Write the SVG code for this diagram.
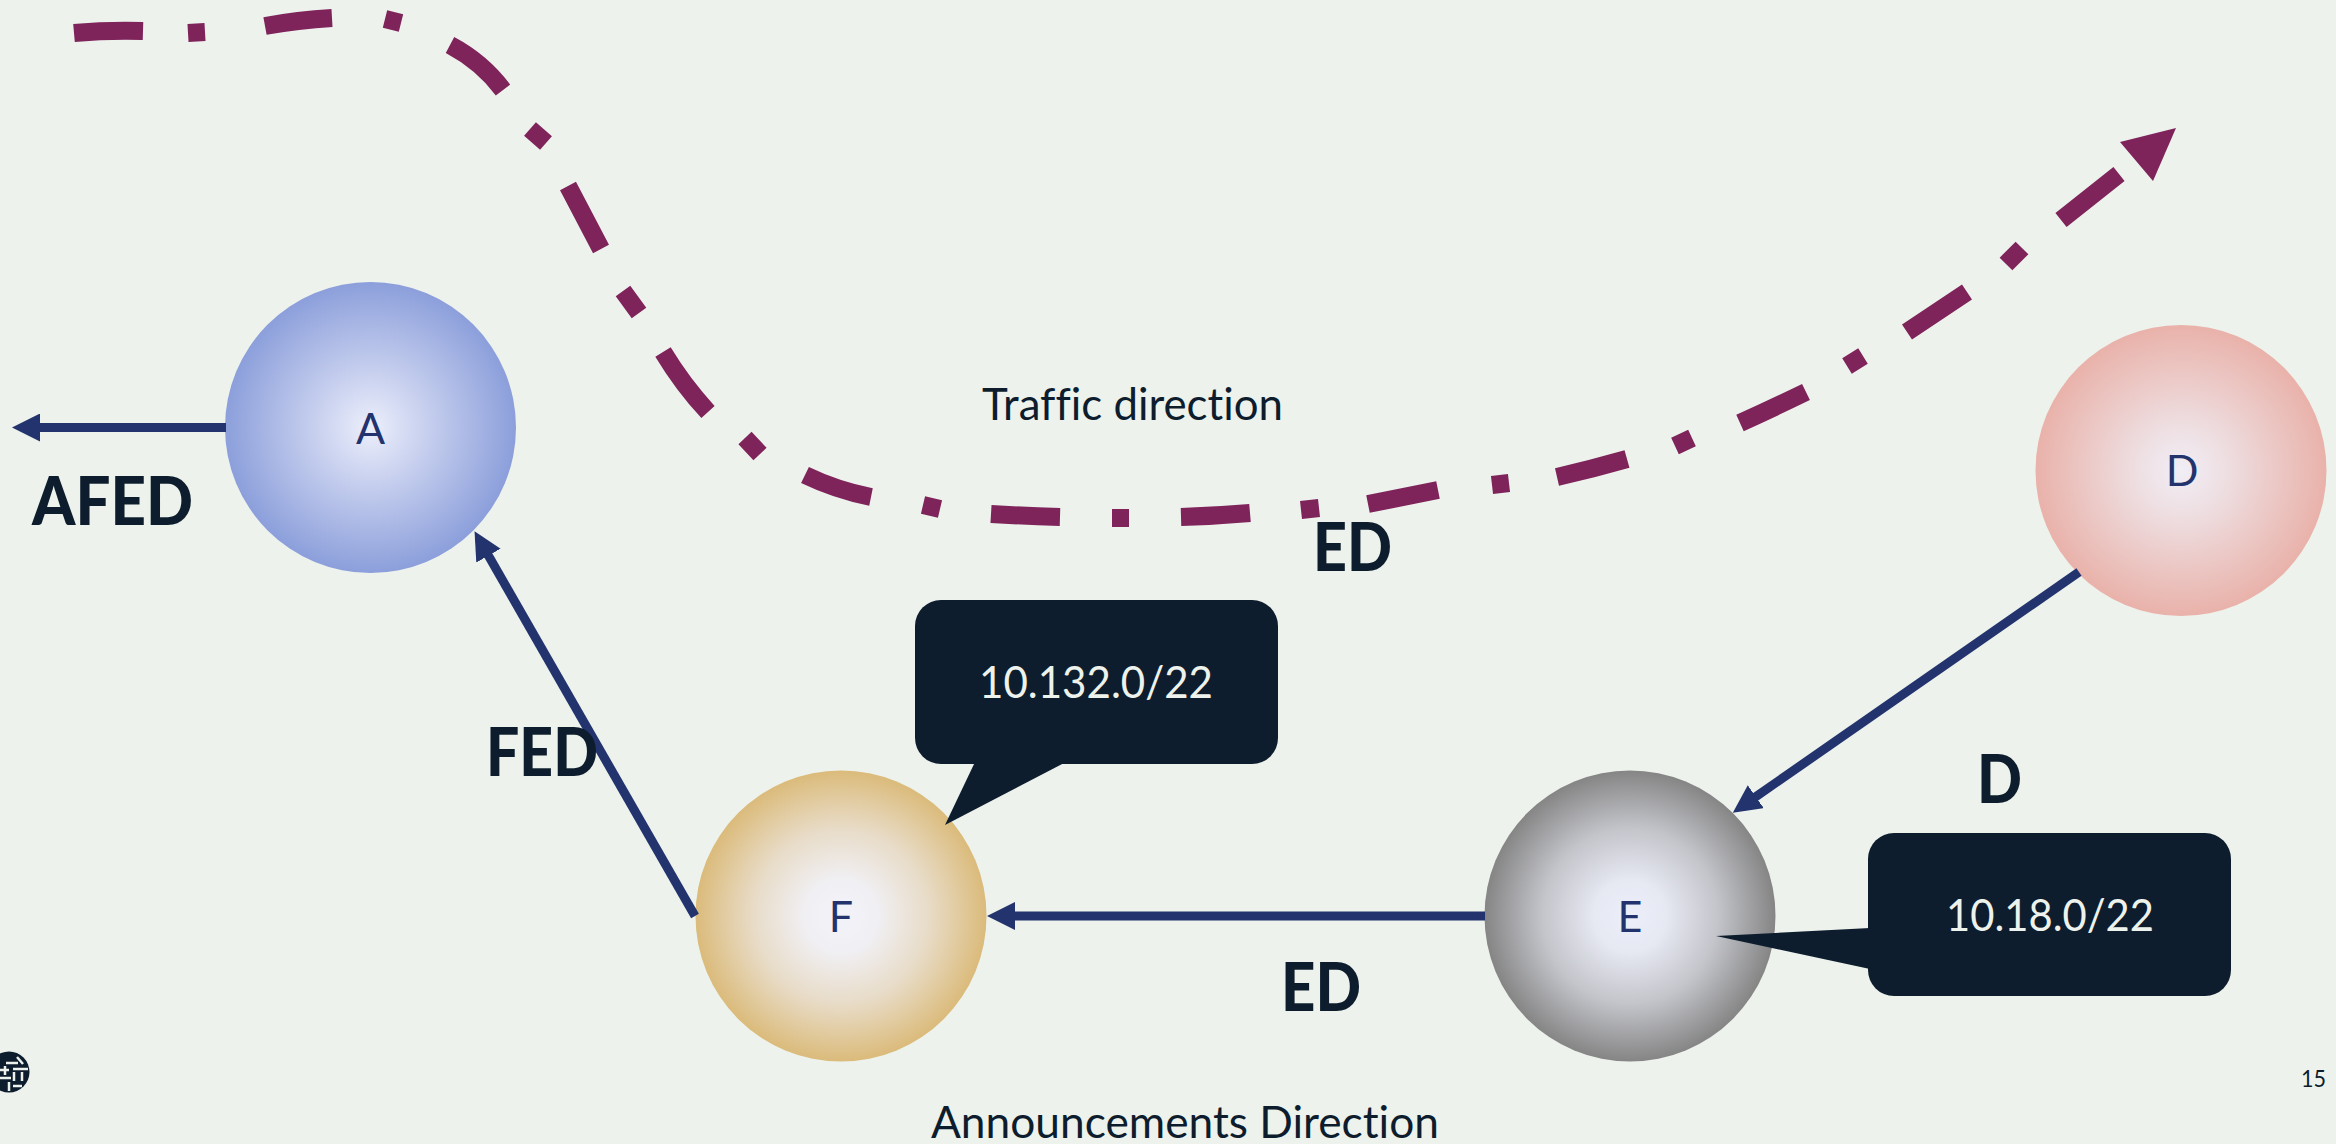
<svg xmlns="http://www.w3.org/2000/svg" width="2336" height="1144" viewBox="0 0 2336 1144">
<style>
text{font-family:"Lato","Liberation Sans",sans-serif;fill:#0D1D2D;font-variant-ligatures:none}
.big{font-size:67px;font-weight:900}
.mid{font-size:44px}
.node{font-size:43px;fill:#22336D;text-anchor:middle}
.white{fill:#EDF2EC}
.box{fill:#0D1D2D}
.link{fill:none;stroke:#22336D;stroke-width:9;marker-end:url(#ah)}
.traffic{fill:none;stroke:#7F235B;stroke-width:18}
</style>
<defs>
<marker id="ah" markerUnits="userSpaceOnUse" markerWidth="28" markerHeight="28" viewBox="0 0 28 28" refX="18" refY="14" orient="auto"><path d="M0 0L28 14L0 28z" fill="#22336D"/></marker>
<radialGradient id="ga"><stop offset="0" stop-color="#ECEFFB"/><stop offset="0.3" stop-color="#CFD6F1"/><stop offset="1" stop-color="#8C9FDB"/></radialGradient>
<radialGradient id="gd"><stop offset="0" stop-color="#F1EEF6"/><stop offset="0.3" stop-color="#EEDFE2"/><stop offset="1" stop-color="#E9B2AA"/></radialGradient>
<radialGradient id="ge"><stop offset="0" stop-color="#ECEFFA"/><stop offset="0.25" stop-color="#E6E8F2"/><stop offset="0.6" stop-color="#C4C5CB"/><stop offset="1" stop-color="#858585"/></radialGradient>
<radialGradient id="gf"><stop offset="0" stop-color="#F2F3FA"/><stop offset="0.25" stop-color="#F0EFF3"/><stop offset="0.6" stop-color="#E8DCC8"/><stop offset="1" stop-color="#DBBB7B"/></radialGradient>
</defs>
<rect width="2336" height="1144" fill="#EDF2EC"/>
<g id="node-a"><circle cx="370.500" cy="427.500" r="145.500" fill="url(#ga)"/><text class="node" x="370.500" y="444">A</text></g>
<g id="node-d"><circle cx="2181" cy="470.500" r="145.500" fill="url(#gd)"/><text class="node" x="2182" y="486">D</text></g>
<g id="node-e"><circle cx="1630" cy="916" r="145.500" fill="url(#ge)"/><text class="node" x="1630" y="932">E</text></g>
<g id="node-f"><circle cx="841" cy="916" r="145.500" fill="url(#gf)"/><text class="node" x="841" y="932">F</text></g>
<g id="connectors">
<path class="link" d="M226 427.500H22"/>
<path class="link" d="M695 916L479.500 540"/>
<path class="link" d="M1485 916H997"/>
<path class="link" d="M2079 572L1741 807"/>
<path class="traffic" d="M74 33Q108 30 143 31M188 33L205 32M265 26Q298 20 332 18M385 19L401 23M450 45Q482 62 503 90M530 129L546 143M568 186L601 249M623 291L639 313M663 352Q683 385 708 412M745 438L760 454M805 475Q836 490 871 497M923 505L940 509M991 514Q1025 516 1060 517M1112 518H1129M1181 517Q1215 516 1250 513M1301 510L1319 508M1368 504L1438 490M1492 485L1509 483M1557 477Q1592 469 1627 459M1675 446L1692 438M1740 423Q1773 408 1806 392M1847 366L1863 356M1907 332Q1937 312 1967 292M2006 264L2022 248M2061 220L2119 174"/>
<polygon points="2176,128 2120,142 2153,181" fill="#7F235B"/>
</g>
<g id="callout-f"><rect class="box" x="915" y="600" width="363" height="164" rx="26"/><polygon class="box" points="975,762 1066,762 945,825"/><text class="mid white" x="979" y="698" textLength="234" lengthAdjust="spacingAndGlyphs">10.132.0/22</text></g>
<g id="callout-e"><rect class="box" x="1868" y="833" width="363" height="163" rx="26"/><polygon class="box" points="1870,928 1870,969 1716,936"/><text class="mid white" x="1946" y="931" textLength="208" lengthAdjust="spacingAndGlyphs">10.18.0/22</text></g>
<g id="labels">
<text class="big" x="32" y="525" textLength="161" lengthAdjust="spacingAndGlyphs">AFED</text>
<text class="big" x="1313" y="571" textLength="79" lengthAdjust="spacingAndGlyphs">ED</text>
<text class="big" x="486" y="776" textLength="112" lengthAdjust="spacingAndGlyphs">FED</text>
<text class="big" x="1281" y="1011" textLength="80" lengthAdjust="spacingAndGlyphs">ED</text>
<text class="big" x="1977" y="803" textLength="45" lengthAdjust="spacingAndGlyphs">D</text>
<text class="mid" x="982" y="420" textLength="301" lengthAdjust="spacingAndGlyphs">Traffic direction</text>
<text class="mid" x="931" y="1138" textLength="508" lengthAdjust="spacingAndGlyphs">Announcements Direction</text>
<text x="2301" y="1087" font-size="24" textLength="25" lengthAdjust="spacingAndGlyphs">15</text>
</g>
<g id="logo"><circle cx="9" cy="1072" r="20.500" fill="#0D1D2D"/><path d="M6 1063H18M-2 1078H11M13 1086H22M5 1066V1075M-2 1070H9M14 1072V1081M22 1072V1081M13 1069H28M17 1057L23 1064M9 1082V1091" fill="none" stroke="#EDF2EC" stroke-width="2.500"/></g>
</svg>
